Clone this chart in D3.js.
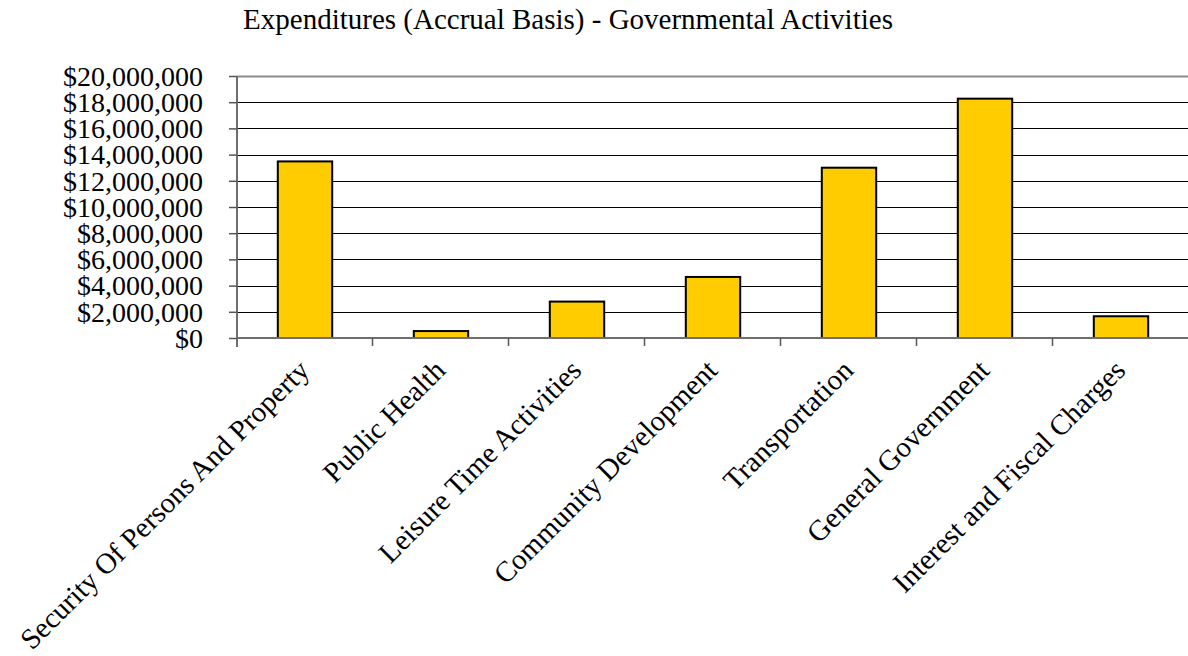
<!DOCTYPE html>
<html>
<head>
<meta charset="utf-8">
<script src="https://cdn.jsdelivr.net/npm/d3@7"></script>
<style>
  body { margin: 0; background: #fff; }
  svg { display: block; }
  svg text { font-family: "Liberation Serif", "Times New Roman", serif; }
</style>
</head>
<body>
<svg width="1188" height="656"></svg>
<script>
const titleText = 'Expenditures (Accrual Basis) - Governmental Activities';

const categories = [
    'Security Of Persons And Property',
    'Public Health',
    'Leisure Time Activities',
    'Community Development',
    'Transportation',
    'General Government',
    'Interest and Fiscal Charges'
];
const expenditures = [13480000, 530000, 2780000, 4660000, 13000000, 18270000, 1660000];
const yTicks = [0, 2000000, 4000000, 6000000, 8000000, 10000000, 12000000, 14000000, 16000000, 18000000, 20000000];

const svg = d3.select('svg');
const width = +svg.attr('width');
const height = +svg.attr('height');

const margin = { top: 76, right: -1, bottom: 318, left: 237 };
const innerWidth = width - margin.left - margin.right;
const innerHeight = height - margin.top - margin.bottom;

const xScale = d3.scaleBand()
    .domain(categories)
    .range([0, innerWidth])
    .paddingInner(0.6)
    .paddingOuter(0.3);

const yScale = d3.scaleLinear()
    .domain([0, 20000000])
    .range([innerHeight, 0]);

const g = svg.append('g')
    .attr('transform', `translate(${margin.left},${margin.top})`);

// gridlines
g.append('g')
    .selectAll('line')
    .data(yTicks.filter(d => d > 0))
    .join('line')
    .attr('x1', 0)
    .attr('x2', innerWidth)
    .attr('y1', d => Math.round(yScale(d)) + 0.5)
    .attr('y2', d => Math.round(yScale(d)) + 0.5)
    .attr('stroke', d => d === 20000000 ? '#8c8c8c' : '#000')
    .attr('stroke-width', d => d === 20000000 ? 2 : 1);

// bars
g.append('g')
    .selectAll('rect')
    .data(expenditures)
    .join('rect')
    .attr('x', (d, i) => xScale(categories[i]))
    .attr('y', d => yScale(d))
    .attr('width', xScale.bandwidth())
    .attr('height', d => innerHeight - yScale(d))
    .attr('fill', '#ffcc00')
    .attr('stroke', '#000')
    .attr('stroke-width', 2);

// y axis
const yAxis = d3.axisLeft(yScale)
    .tickValues(yTicks)
    .tickSize(8)
    .tickPadding(26)
    .tickFormat(d => '$' + d3.format(',')(d));

const yAxisG = g.append('g').call(yAxis)
    .attr('font-family', null)
    .attr('font-size', 28);
yAxisG.select('.domain')
    .attr('stroke', '#6e6e6e')
    .attr('stroke-width', 2)
    .attr('d', `M0,0V${innerHeight + 9}`);
yAxisG.selectAll('.tick line').attr('stroke', '#555').attr('stroke-width', 1.5);
yAxisG.selectAll('.tick text')
    .attr('fill', '#000')
    .attr('dy', '0.33em');

// x axis: baseline and category separator ticks
const xAxisG = g.append('g')
    .attr('transform', `translate(0,${innerHeight})`);

xAxisG.append('line')
    .attr('x1', 0)
    .attr('x2', innerWidth)
    .attr('stroke', '#6e6e6e')
    .attr('stroke-width', 2);

xAxisG.selectAll('.sep')
    .data(categories.slice(1))
    .join('line')
    .attr('class', 'sep')
    .attr('x1', d => xScale(d) - xScale.bandwidth() * 0.75 - 0.5)
    .attr('x2', d => xScale(d) - xScale.bandwidth() * 0.75 - 0.5)
    .attr('y1', 0)
    .attr('y2', 8)
    .attr('stroke', '#555')
    .attr('stroke-width', 1.5);

xAxisG.selectAll('.cat-label')
    .data(categories)
    .join('text')
    .attr('class', 'cat-label')
    .attr('font-size', 29)
    .attr('text-anchor', 'end')
    .attr('transform', d => {
        const cx = xScale(d) + xScale.bandwidth() / 2;
        return `translate(${cx + 6},${34}) rotate(-45)`;
    })
    .text(d => d);

svg.append('text')
    .attr('class', 'title')
    .attr('x', 568)
    .attr('y', 29)
    .attr('text-anchor', 'middle')
    .attr('font-size', 29)
    .text(titleText);
</script>
</body>
</html>
